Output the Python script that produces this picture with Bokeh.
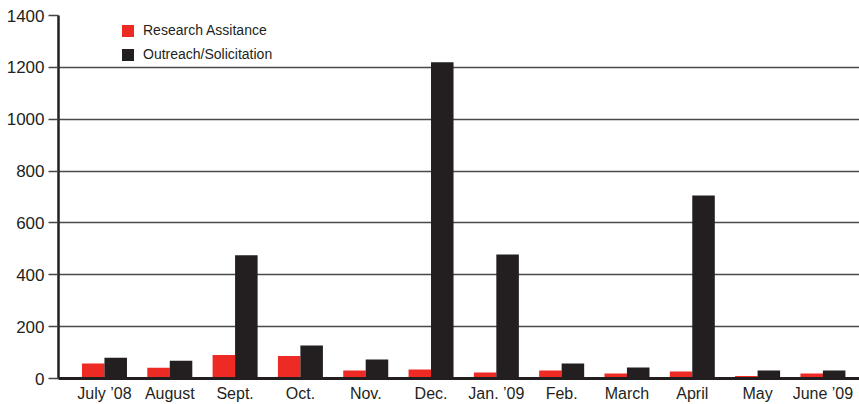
from bokeh.plotting import figure
from bokeh.models import ColumnDataSource, Legend, LegendItem, FixedTicker, Range1d
from bokeh.embed import file_html
from bokeh.resources import INLINE

months = ["July \u201908", "August", "Sept.", "Oct.", "Nov.", "Dec.", "Jan. \u201909",
          "Feb.", "March", "April", "May", "June \u201909"]
research = [58, 41, 91, 87, 31, 35, 23, 31, 19, 27, 10, 19]
outreach = [80, 68, 475, 127, 73, 1220, 478, 58, 42, 706, 31, 31]
y_ticks = [0, 200, 400, 600, 800, 1000, 1200, 1400]

idx = list(range(len(months)))
off = 0.172
bw = 0.345
src = ColumnDataSource(dict(
    xr=[i - off for i in idx], xo=[i + off for i in idx],
    research=research, outreach=outreach))

FONT = "'Liberation Sans', sans-serif"

p = figure(width=859, height=404, output_backend="svg", toolbar_location=None,
           x_range=Range1d(-0.704, 11.56), y_range=Range1d(0, 1400),
           min_border_left=58, min_border_right=0, min_border_top=15, min_border_bottom=26)
p.outline_line_color = None
p.xgrid.grid_line_color = None
p.ygrid.grid_line_color = "#4a4a4a"
p.ygrid.grid_line_width = 1.5
p.ygrid.ticker = FixedTicker(ticks=y_ticks)

r1 = p.vbar(x="xr", top="research", width=bw, source=src, fill_color="#ee2a24", line_color=None)
r2 = p.vbar(x="xo", top="outreach", width=bw, source=src, fill_color="#231f20", line_color=None)

p.yaxis.ticker = FixedTicker(ticks=y_ticks)
p.yaxis.axis_line_color = "#231f20"
p.yaxis.axis_line_width = 2.5
p.yaxis.major_tick_out = 10
p.yaxis.major_tick_in = 0
p.yaxis.major_tick_line_width = 1.5
p.yaxis.major_tick_line_color = "#444444"
p.yaxis.minor_tick_line_color = None
p.yaxis.major_label_text_font = FONT
p.yaxis.major_label_text_font_size = "17px"
p.yaxis.major_label_text_color = "#231f20"
p.yaxis.major_label_standoff = 4

p.xaxis.ticker = FixedTicker(ticks=idx)
p.xaxis.major_label_overrides = {i: m for i, m in zip(idx, months)}
p.xaxis.axis_line_color = "#231f20"
p.xaxis.axis_line_width = 3
p.xaxis.major_tick_line_color = None
p.xaxis.major_tick_out = 0
p.xaxis.major_tick_in = 0
p.xaxis.minor_tick_line_color = None
p.xaxis.major_label_text_font = FONT
p.xaxis.major_label_text_font_size = "16px"
p.xaxis.major_label_text_color = "#231f20"
p.xaxis.major_label_standoff = 6

legend = Legend(items=[LegendItem(label="Research Assitance", renderers=[r1]),
                       LegendItem(label="Outreach/Solicitation", renderers=[r2])],
                location=(62, 316), orientation="vertical",
                border_line_color=None, background_fill_alpha=0,
                padding=0, margin=0, spacing=8,
                glyph_width=15, glyph_height=15, label_height=15,
                label_standoff=8, label_text_font="'Liberation Sans', sans-serif",
                label_text_font_size="14px", label_text_color="#231f20")
p.add_layout(legend)

open("out.html", "w").write(file_html(p, INLINE))
